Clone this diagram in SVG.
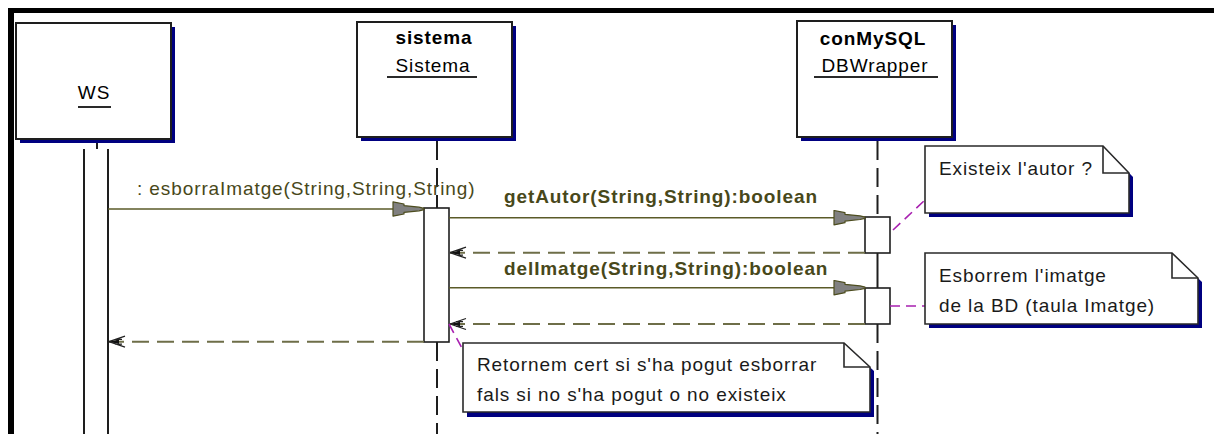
<svg xmlns="http://www.w3.org/2000/svg" width="1214" height="434" viewBox="0 0 1214 434">
  <defs>
    <style>
      .frame { fill: #000; }
      .shadow { fill: #000080; }
      .box { fill: #fff; stroke: #1e1e1e; stroke-width: 2; }
      .txt { font-family: "Liberation Sans", Arial, sans-serif; font-size: 19px; letter-spacing: 0.9px; }
      .title { fill: #000; text-anchor: middle; }
      .bold { font-weight: bold; }
      .uline { stroke: #2a2a2a; stroke-width: 2; }
      .life { stroke: #1e1e1e; stroke-width: 2; stroke-dasharray: 19 8; fill: none; }
      .solid { stroke: #1e1e1e; stroke-width: 2; fill: none; }
      .act { fill: #fff; stroke: #1e1e1e; stroke-width: 1.6; }
      .call { stroke: #5a5a28; stroke-width: 1.6; fill: none; marker-end: url(#callHead); }
      .ret { stroke: #6e6e48; stroke-width: 2; stroke-dasharray: 17 8; fill: none; marker-end: url(#retHead); }
      .msg { fill: #48481a; }
      .note { fill: #fff; stroke: #2a2a2a; stroke-width: 1.6; }
      .fold { fill: none; stroke: #2a2a2a; stroke-width: 1.6; }
      .ntext { fill: #1a1a1a; }
      .link { stroke: #a820b0; stroke-width: 1.6; stroke-dasharray: 10 6; fill: none; }
    </style>
    <!-- filled call arrowhead, tip at the reference point -->
    <marker id="callHead" viewBox="0 0 33 16" refX="32" refY="8" markerWidth="33" markerHeight="16" markerUnits="userSpaceOnUse" orient="auto">
      <path d="M1,0.8 L12,3 L12,4.6 L27,6.2 L32,7.4 L32,8.6 L27,9.8 L12,11.4 L12,13 L1,15.2 Z" fill="#808080" stroke="#4d4d1f" stroke-width="1.2" stroke-linejoin="round"/>
    </marker>
    <!-- open return arrowhead -->
    <marker id="retHead" viewBox="0 0 20 14" refX="19" refY="7" markerWidth="20" markerHeight="14" markerUnits="userSpaceOnUse" orient="auto">
      <path d="M19,7 L9,4.8 L9,9.2 Z" fill="#111"/>
      <path d="M19,7 L3,1.5 M19,7 L3,12.5 M13,4.6 L6,4.6 M13,9.4 L6,9.4" stroke="#222" stroke-width="1.3" fill="none"/>
    </marker>
  </defs>

  <rect width="1214" height="434" fill="#fff"/>

  <!-- frame -->
  <rect class="frame" x="8" y="8" width="1206" height="5"/>
  <rect class="frame" x="8" y="8" width="6" height="426"/>

  <!-- lifelines -->
  <g id="lifelines">
    <line class="solid" x1="97" y1="143" x2="97" y2="149"/>
    <line class="life" x1="437" y1="141" x2="437" y2="208"/>
    <line class="life" x1="437" y1="342" x2="437" y2="434"/>
    <line class="life" x1="877.5" y1="141" x2="877.5" y2="217"/>
    <line class="solid" x1="877.5" y1="253" x2="877.5" y2="288"/>
    <line class="life" x1="877.5" y1="324" x2="877.5" y2="434"/>
  </g>

  <!-- WS object -->
  <g id="ws">
    <rect class="shadow" x="20" y="27" width="155" height="116"/>
    <rect class="box" x="16" y="23" width="155" height="116"/>
    <text class="txt title" x="94" y="99">WS</text>
    <line class="uline" x1="78" y1="107" x2="111" y2="107"/>
    <!-- activation running past the bottom edge -->
    <line class="solid" x1="84" y1="149" x2="84" y2="434" stroke-width="1.6"/>
    <line class="solid" x1="108" y1="149" x2="108" y2="434" stroke-width="1.6"/>
  </g>

  <!-- sistema object -->
  <g id="sistema">
    <rect class="shadow" x="361" y="26" width="155" height="115"/>
    <rect class="box" x="357" y="22" width="155" height="115"/>
    <text class="txt title bold" x="434" y="44">sistema</text>
    <text class="txt title" x="433" y="72">Sistema</text>
    <line class="uline" x1="387" y1="77" x2="477" y2="77"/>
    <rect class="act" x="424" y="208" width="25" height="134"/>
  </g>

  <!-- conMySQL object -->
  <g id="conMySQL">
    <rect class="shadow" x="801" y="25" width="155" height="116"/>
    <rect class="box" x="797" y="21" width="155" height="116"/>
    <text class="txt title bold" x="873" y="45">conMySQL</text>
    <text class="txt title" x="875" y="72">DBWrapper</text>
    <line class="uline" x1="814" y1="77" x2="938" y2="77"/>
    <rect class="act" x="865" y="217" width="25" height="36"/>
    <rect class="act" x="865" y="288" width="25" height="36"/>
  </g>

  <!-- messages -->
  <g id="connectors">
    <line class="call" x1="108" y1="209" x2="424" y2="209"/>
    <line class="call" x1="449" y1="217.7" x2="865" y2="217.7"/>
    <line class="ret" x1="865" y1="252.7" x2="450" y2="252.7"/>
    <line class="call" x1="449" y1="287.7" x2="865" y2="287.7"/>
    <line class="ret" x1="865" y1="324" x2="450" y2="324"/>
    <line class="ret" x1="424" y1="341.7" x2="109" y2="341.7"/>

    <line class="link" x1="893" y1="230" x2="925" y2="200"/>
    <line class="link" x1="890" y1="306" x2="925" y2="306"/>
    <line class="link" x1="449" y1="324" x2="463" y2="350"/>

    <text class="txt msg" x="137" y="195">: esborraImatge(String,String,String)</text>
    <text class="txt msg bold" x="504" y="203">getAutor(String,String):boolean</text>
    <text class="txt msg bold" x="504" y="275">delImatge(String,String):boolean</text>
  </g>

  <!-- notes -->
  <g id="note-autor">
    <path class="shadow" d="M929,150 H1107 L1133,177 V217 H929 Z"/>
    <path class="note" d="M925,146 H1103 L1129,173 V213 H925 Z"/>
    <path class="fold" d="M1103,146 V173 H1129"/>
    <text class="txt ntext" x="939" y="175">Existeix l'autor ?</text>
  </g>

  <g id="note-esborrem">
    <path class="shadow" d="M929,257 H1176 L1202,282 V328 H929 Z"/>
    <path class="note" d="M925,253 H1172 L1198,278 V324 H925 Z"/>
    <path class="fold" d="M1172,253 V278 H1198"/>
    <text class="txt ntext" x="939" y="282">Esborrem l'imatge</text>
    <text class="txt ntext" x="939" y="312">de la BD (taula Imatge)</text>
  </g>

  <g id="note-retornem">
    <path class="shadow" d="M467,347 H848 L874,371 V417 H467 Z"/>
    <path class="note" d="M463,343 H844 L870,367 V412 H463 Z"/>
    <path class="fold" d="M844,343 V367 H870"/>
    <text class="txt ntext" x="477" y="371">Retornem cert si s'ha pogut esborrar</text>
    <text class="txt ntext" x="477" y="401">fals si no s'ha pogut o no existeix</text>
  </g>
</svg>
